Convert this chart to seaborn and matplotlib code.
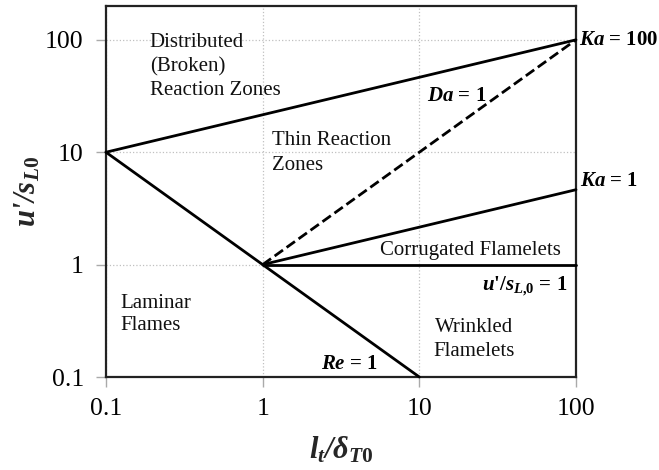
import matplotlib
matplotlib.use("Agg")
import matplotlib.pyplot as plt
import seaborn as sns
import pandas as pd

# ---- data (endpoints of regime boundaries, log-log Borghi diagram) ----
lt_ka100 = [0.1, 100]
u_ka100 = [10, 100]
lt_re1 = [0.1, 10]
u_re1 = [10, 0.1]
lt_da1 = [1, 100]
u_da1 = [1, 100]
lt_ka1 = [1, 100]
u_ka1 = [1, 4.64]
lt_u1 = [1, 100]
u_u1 = [1, 1]

x_ticks = [0.1, 1, 10, 100]
y_ticks = [0.1, 1, 10, 100]
tick_labels = ["0.1", "1", "10", "100"]

sns.set_theme(style="white")
plt.rcParams["font.family"] = ["Liberation Serif", "DejaVu Serif"]
plt.rcParams["mathtext.fontset"] = "custom"
plt.rcParams["mathtext.it"] = "Liberation Serif:italic:bold"
plt.rcParams["mathtext.rm"] = "Liberation Serif:bold"
plt.rcParams["mathtext.bf"] = "Liberation Serif:bold"

fig = plt.figure(figsize=(6.59, 4.70), dpi=100)
ax = fig.add_axes([106 / 659, 1 - 377 / 470, 470 / 659, 371 / 470])

lines = [
    (lt_ka100, u_ka100, "-"),
    (lt_re1, u_re1, "-"),
    (lt_da1, u_da1, "--"),
    (lt_ka1, u_ka1, "-"),
    (lt_u1, u_u1, "-"),
]
for xs, ys, ls in lines:
    sns.lineplot(x=xs, y=ys, ax=ax, color="black", linewidth=2.0,
                 linestyle=ls, sort=False, clip_on=False, zorder=3)

ax.set_xscale("log")
ax.set_yscale("log")
ax.set_xlim(0.1, 100)
ax.set_ylim(0.1, 200)
ax.set_xticks(x_ticks)
ax.set_xticklabels(tick_labels)
ax.set_yticks(y_ticks)
ax.set_yticklabels(tick_labels)
ax.minorticks_off()
ax.tick_params(axis="both", which="major", labelsize=18.5, length=7,
               width=1, color="#aaaaaa", labelcolor="black", direction="out",
               left=True, bottom=True)
ax.tick_params(axis="y", pad=9)
ax.tick_params(axis="x", pad=8)
ax.grid(True, which="major", linestyle=":", color="#c0c0c0", linewidth=0.9)
for s in ax.spines.values():
    s.set_color("#222222")
    s.set_linewidth(1.6)

ax.set_xlabel("$\\mathit{l}_{\\mathit{t}}$/δ$_{\\mathit{T0}}$", fontsize=22,
              fontweight="bold", fontstyle="italic")
ax.set_ylabel("u'/s$_{\\mathit{L0}}$", fontsize=22, fontweight="bold",
              fontstyle="italic")
ax.xaxis.set_label_coords(0.5, -0.155)
ax.yaxis.set_label_coords(-0.135, 0.5)

reg = dict(fontsize=15, color="#111111")
ax.text(0.19, 58, "Distributed\n(Broken)\nReaction Zones", ha="left",
        va="center", linespacing=1.35, **reg)
ax.text(1.15, 9.9, "Thin Reaction\nZones", ha="left", va="center",
        linespacing=1.4, **reg)
ax.text(21.3, 1.33, "Corrugated Flamelets", ha="center", va="center", **reg)
ax.text(22.3, 0.214, "Wrinkled\nFlamelets", ha="center", va="center",
        multialignment="center", linespacing=1.35, **reg)
ax.text(0.123, 0.36, "Laminar\nFlames", ha="left", va="center",
        linespacing=1.2, **reg)

lab = dict(fontsize=15, fontweight="bold", color="black", clip_on=False)
ax.text(104, 100, "$\\mathit{Ka}$ = 100", ha="left", va="center", **lab)
ax.text(106, 5.6, "$\\mathit{Ka}$ = 1", ha="left", va="center", **lab)
ax.text(11.2, 31.5, "$\\mathit{Da}$ = 1", ha="left", va="center", **lab)
ax.text(5.4, 0.13, "$\\mathit{Re}$ = 1", ha="right", va="center", **lab)
ax.text(88, 0.64, "$\\mathit{u}$'/$\\mathit{s}_{\\mathit{L{,}0}}$ = 1",
        ha="right", va="center", **lab)

fig.savefig("out.png", dpi=100)
